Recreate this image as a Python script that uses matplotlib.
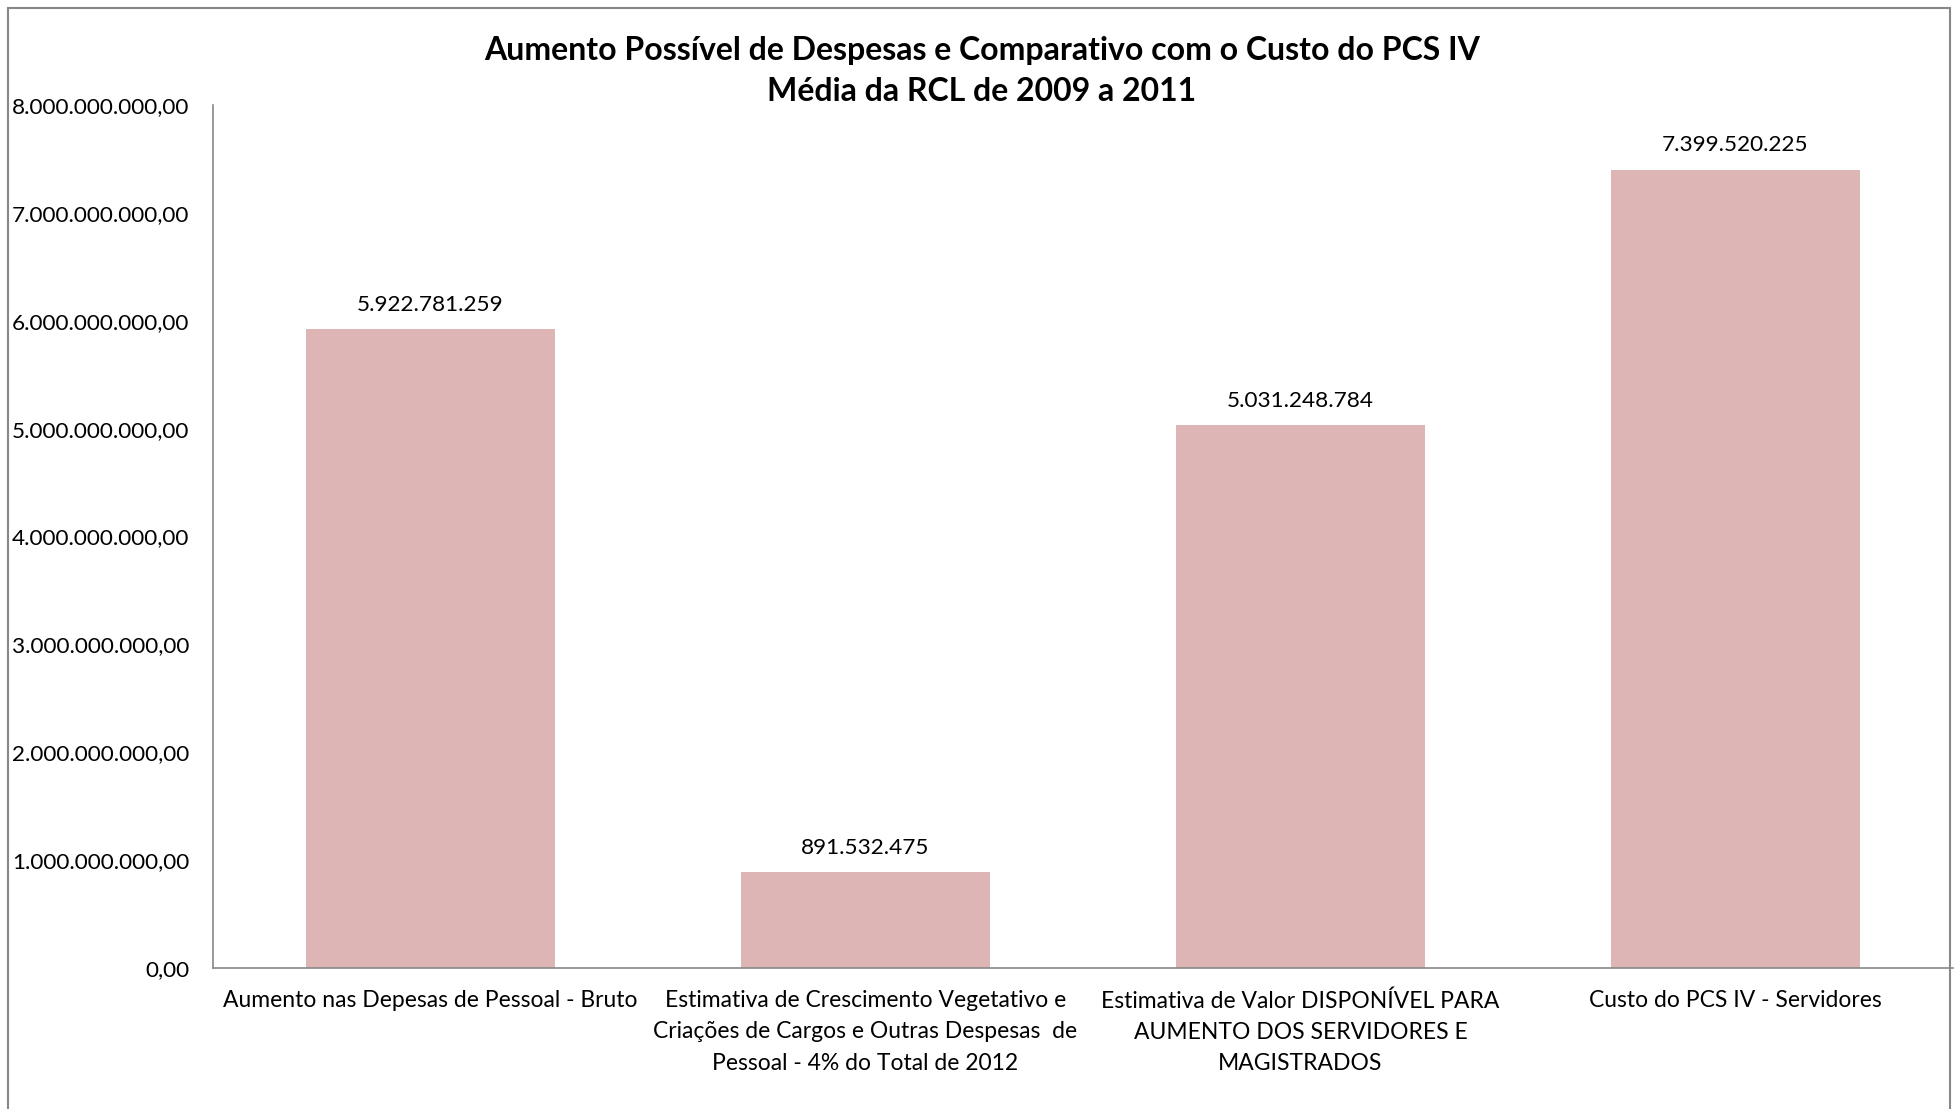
import matplotlib
matplotlib.use("Agg")
import matplotlib.pyplot as plt
from matplotlib.patches import Rectangle
from matplotlib.ticker import FuncFormatter

plt.rcParams['font.family'] = ['Lato', 'DejaVu Sans']

categories = [
    "Aumento nas Depesas de Pessoal - Bruto",
    "Estimativa de Crescimento Vegetativo e\nCriações de Cargos e Outras Despesas  de\nPessoal - 4% do Total de 2012",
    "Estimativa de Valor DISPONÍVEL PARA\nAUMENTO DOS SERVIDORES E\nMAGISTRADOS",
    "Custo do PCS IV - Servidores",
]
values = [5922781259, 891532475, 5031248784, 7399520225]
value_labels = ["5.922.781.259", "891.532.475", "5.031.248.784", "7.399.520.225"]
yticks = [0, 1e9, 2e9, 3e9, 4e9, 5e9, 6e9, 7e9, 8e9]
title = "Aumento Possível de Despesas e Comparativo com o Custo do PCS IV\nMédia da RCL de 2009 a 2011"

W, H = 1956, 1109
fig = plt.figure(figsize=(W / 100, H / 100), dpi=100)
ax = fig.add_axes([213 / W, 1 - 968 / H, (1953 - 213) / W, (968 - 105) / H])

bar_color = "#DDB5B5"
x = list(range(len(categories)))
bars = ax.bar(x, values, width=0.573, color=bar_color, zorder=2)

for xi, v, lab in zip(x, values, value_labels):
    ax.annotate(lab, (xi, v), xytext=(0, 17.5), textcoords="offset points",
                ha="center", va="center", fontsize=16.2, color="black")

ax.set_xlim(-0.5, 3.5)
ax.set_ylim(0, 8e9)
ax.set_yticks(yticks)

def fmt(v, pos):
    s = f"{int(round(v)):,}".replace(",", ".")
    return s + ",00"

ax.yaxis.set_major_formatter(FuncFormatter(fmt))
ax.set_xticks(x)
ax.set_xticklabels(categories, fontsize=16.5, linespacing=1.6)
ax.tick_params(axis="both", length=0, colors="black")
ax.tick_params(axis="y", labelsize=16.2, pad=17)
ax.tick_params(axis="x", pad=16)

for side in ["top", "right"]:
    ax.spines[side].set_visible(False)
for side in ["left", "bottom"]:
    ax.spines[side].set_color("#888888")
    ax.spines[side].set_linewidth(1.2)

fig.text(0.502, 1 - 71 / H, title, ha="center", va="center", fontsize=23,
         fontweight="bold", linespacing=1.52)

# Figure frame
fig.patches.append(Rectangle((8 / W, -0.05), (1950 - 8) / W, 1.05 - 8 / H,
                             transform=fig.transFigure, fill=False,
                             edgecolor="#888888", linewidth=1.5))

fig.savefig("out.png", dpi=100)
